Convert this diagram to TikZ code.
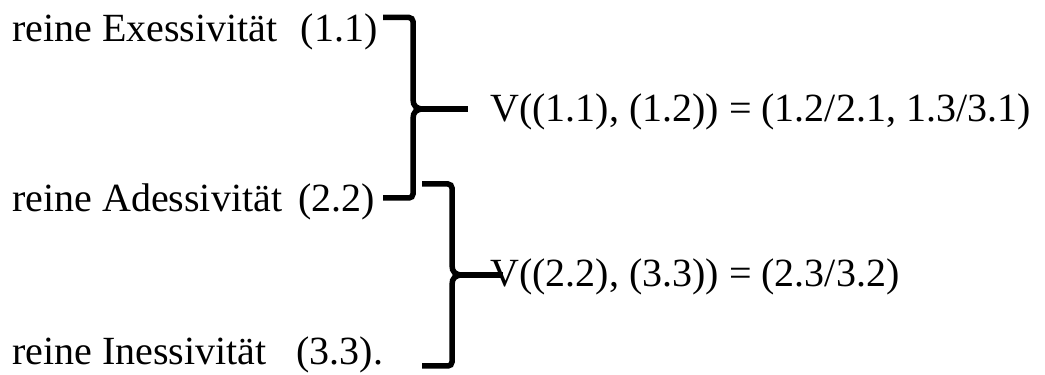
\documentclass[tikz,border=0pt]{standalone}
\usepackage{fontspec}
\setmainfont{Liberation Serif}
\usepackage{tikz}
\usetikzlibrary{calc}
\begin{document}
\begin{tikzpicture}[x=1pt,y=1pt,t/.style={anchor=base west,inner sep=0pt,font=\fontsize{40}{48}\selectfont},brk/.style={line width=5.5pt,rounded corners=4pt}]
\useasboundingbox (0,0) rectangle (1045,375);
\node[t] (exe) at (12,333) {reine Exessivität\hspace{23pt}(1.1)};
\node[t] (ade) at (12,163) {reine Adessivität\hspace{16pt}(2.2)};
\node[t] (ine) at (12,10) {reine Inessivität\hspace{30pt}(3.3).};
\node[t] (v1) at (490,253) {V((1.1), (1.2)) = (1.2/2.1, 1.3/3.1)};
\node[t] (v2) at (490,88) {V((2.2), (3.3)) = (2.3/3.2)};
\coordinate (tip1) at (424,266); \coordinate (tip2) at (463,100);
\draw[brk] (383,357.5) -- (413,357.5) -- (413,280) .. controls (413,269) and (416,266) .. (tip1);
\draw[brk] (tip1) .. controls (416,266) and (413,263) .. (413,252) -- (413,177) -- (383,177);
\draw[brk] (422,191) -- (452,191) -- (452,114) .. controls (452,103) and (455,100) .. (tip2);
\draw[brk] (tip2) .. controls (455,100) and (452,97) .. (452,86) -- (452,9) -- (422,9);
\draw[line width=5.5pt] (tip1) -- ([xshift=-22pt]tip1 -| v1.west);
\draw[line width=5.5pt] (tip2) -- ([xshift=13pt]tip2 -| v2.west);
\end{tikzpicture}
\end{document}
